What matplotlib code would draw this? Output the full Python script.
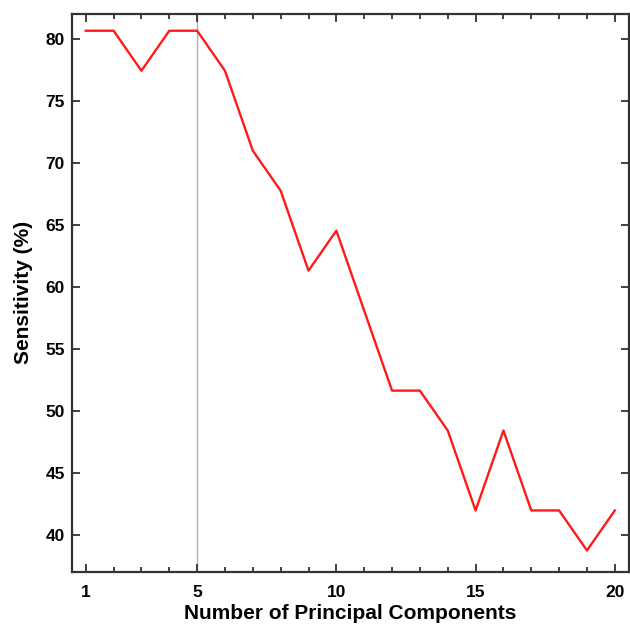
import matplotlib.pyplot as plt

plt.rcParams['font.family'] = ['Liberation Sans', 'DejaVu Sans']
plt.rcParams['font.weight'] = 'bold'

n_components = list(range(1, 21))
sensitivity = [80.65, 80.65, 77.42, 80.65, 80.65, 77.42, 70.97, 67.74, 61.29, 64.52,
               58.06, 51.61, 51.61, 48.39, 41.94, 48.39, 41.94, 41.94, 38.71, 41.94]
xticks = [1, 5, 10, 15, 20]
yticks = [40, 45, 50, 55, 60, 65, 70, 75, 80]
chosen = 5

fig = plt.figure(figsize=(6.3, 6.25), dpi=100)
ax = fig.add_axes([0.114, 0.0853, 0.884, 0.8923])

ax.axvline(chosen, color='#b0b0b0', linewidth=1.0, zorder=1)
ax.plot(n_components, sensitivity, color='#ff1a1a', linewidth=1.7, zorder=2)

ax.set_xlim(0.5, 20.5)
ax.set_ylim(37, 82)
ax.set_xticks(xticks)
ax.set_xticks(n_components, minor=True)
ax.set_yticks(yticks)

ax.tick_params(which='both', direction='in', top=True, right=True,
               color='#333333', width=1.3, labelsize=12.5)
ax.tick_params(axis='x', which='both', pad=9.5)
ax.tick_params(axis='y', which='both', pad=5)
ax.tick_params(which='major', length=6)
ax.tick_params(which='minor', length=3.5)
for s in ax.spines.values():
    s.set_color('#333333')
    s.set_linewidth(1.6)

ax.set_xlabel('Number of Principal Components', fontsize=15, fontweight='bold', labelpad=3)
ax.set_ylabel('Sensitivity (%)', fontsize=15, fontweight='bold', labelpad=9)

fig.savefig('out.png', dpi=100)
